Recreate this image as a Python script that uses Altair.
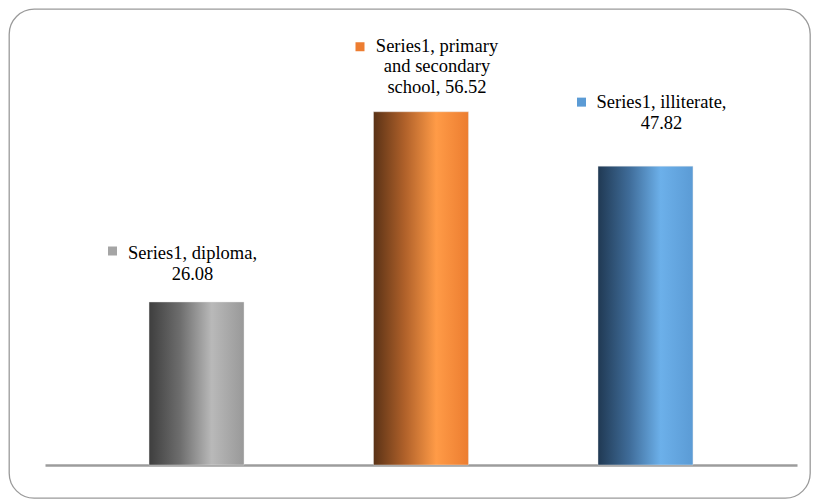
import altair as alt
import pandas as pd

# ---- data ----
categories = ["diploma", "primary and secondary school", "illiterate"]
values = [26.08, 56.52, 47.82]
label_texts = [
    "Series1, diploma,\n26.08",
    "Series1, primary\nand secondary\nschool, 56.52",
    "Series1, illiterate,\n47.82",
]

df = pd.DataFrame({"cat": categories, "val": values, "label": label_texts})

# ---- styles ----
key_colors = ["#a5a5a5", "#ed7d31", "#5b9bd5"]
gradients = [
    [("#3e3e3e", 0.0), ("#6e6e6e", 0.33), ("#b9b9b9", 0.66), ("#999999", 1.0)],
    [("#5a3216", 0.0), ("#b0612a", 0.33), ("#ff9b47", 0.66), ("#ec7d30", 1.0)],
    [("#203953", 0.0), ("#3f6c99", 0.33), ("#6cb0ea", 0.66), ("#5b9bd5", 1.0)],
]
text_dx = [-4, 16, 16]
text_dy = [-43, -60, -58]
key_dx = [-84, -61, -64]
key_dy = [-51, -65, -64]

FONT = "Liberation Serif"
VIEW_W = 801
VIEW_H = 489
BASELINE = 456

base = alt.Chart(df).encode(
    x=alt.X(
        "cat:N",
        sort=categories,
        scale=alt.Scale(range=[36, 788], paddingInner=0.577, paddingOuter=0.4635),
        axis=alt.Axis(
            title="",
            labels=False,
            ticks=False,
            grid=False,
            domain=True,
            domainColor="#9c9c9c",
            domainWidth=2.5,
            offset=BASELINE - VIEW_H,
        ),
    ),
    y=alt.Y("val:Q", scale=alt.Scale(domain=[0, 70], range=[BASELINE, 18.5]), axis=None),
)

layers = []
for i, c in enumerate(categories):
    sub = base.transform_filter(alt.datum.cat == c)
    grad = alt.LinearGradient(
        gradient="linear",
        x1=0, x2=1, y1=0, y2=0,
        stops=[alt.GradientStop(color=col, offset=off) for col, off in gradients[i]],
    )
    bars = sub.mark_bar(color=grad, stroke="#e6e6e6", strokeWidth=0.6, strokeOpacity=0.7)
    text = sub.mark_text(
        align="center",
        baseline="alphabetic",
        lineBreak="\n",
        lineHeight=20.5,
        font=FONT,
        fontSize=18.5,
        color="#000000",
        dx=text_dx[i],
        dy=text_dy[i],
    ).encode(text="label:N")
    key = sub.mark_point(
        shape="square",
        filled=True,
        size=81,
        opacity=1,
        color=key_colors[i],
        xOffset=key_dx[i],
        yOffset=key_dy[i],
    )
    layers += [bars, text, key]

chart = (
    alt.layer(*layers)
    .properties(
        width=VIEW_W,
        height=VIEW_H,
        autosize=alt.AutoSizeParams(type="none"),
        padding={"left": 1, "top": 1, "right": 1, "bottom": 1},
        background="white",
    )
    .configure_view(stroke="#9a9a9a", strokeWidth=1.3, cornerRadius=25, fill="white")
)

chart.save("out.html", embed_options={"renderer": "svg", "actions": False})
